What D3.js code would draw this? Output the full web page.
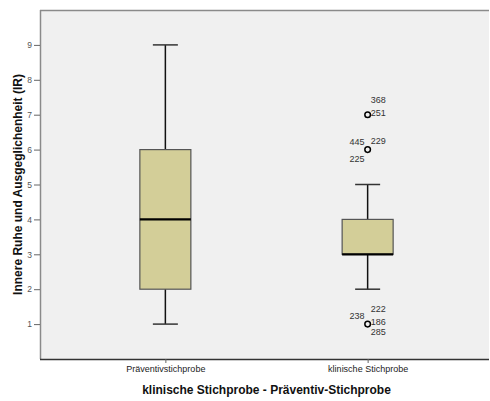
<html>

<head>
	<title>Boxplot IR</title>
	<script src="https://d3js.org/d3.v7.min.js"></script>
	<style>
		body {
			margin: 0;
			background: #fff;
			font-family: "Liberation Sans", Arial, sans-serif;
		}
	</style>
</head>

<body>
	<div id="chart"></div>
	<script>
		// groups and their box statistics
		let groups = ["Präventivstichprobe", "klinische Stichprobe"];
		let mins = [1, 2];
		let q1s = [2, 3];
		let medians = [4, 3];
		let q3s = [6, 4];
		let maxs = [9, 5];
		let yTicks = [1, 2, 3, 4, 5, 6, 7, 8, 9];

		// outliers of the clinical sample: value and case labels (side, dy)
		let outliers = [
			{ g: 1, v: 7, labels: [["368", "r", -15], ["251", "r", -2]] },
			{ g: 1, v: 6, labels: [["445", "l", -8], ["229", "r", -9], ["225", "l", 9]] },
			{ g: 1, v: 1, labels: [["222", "r", -15], ["238", "l", -8], ["186", "r", -2], ["285", "r", 8]] }
		];

		let W = 490, H = 401;
		let pL = 40, pR = 489, pT = 10, pB = 359;

		let svg = d3.select("#chart").append("svg")
			.attr("width", W)
			.attr("height", H);

		let x = d3.scalePoint().domain(groups).range([44, 489]).padding(0.6);
		let y = d3.scaleLinear().domain([0, 10]).range([pB, pT]);

		// plot background
		svg.append("rect")
			.attr("x", pL).attr("y", pT)
			.attr("width", pR - pL).attr("height", pB - pT)
			.attr("fill", "#f0f0f0");
		svg.append("line").attr("x1", pL).attr("x2", pR).attr("y1", pT + 0.5).attr("y2", pT + 0.5)
			.attr("stroke", "#8a8a8a").attr("stroke-width", 1.5);
		svg.append("line").attr("x1", pL + 0.5).attr("x2", pL + 0.5).attr("y1", pT).attr("y2", pB)
			.attr("stroke", "#8a8a8a").attr("stroke-width", 1.5);

		// y axis
		let yAxis = svg.append("g")
			.attr("transform", "translate(" + pL + ",0)")
			.call(d3.axisLeft(y).tickValues(yTicks).tickSize(6).tickPadding(2));
		yAxis.select(".domain").remove();
		yAxis.selectAll("line").attr("stroke", "#666");
		yAxis.selectAll("text").attr("font-size", 8.5).attr("fill", "#555")
			.attr("font-family", "Liberation Sans, Arial, sans-serif");

		// x axis
		let xAxis = svg.append("g")
			.attr("transform", "translate(0," + pB + ")")
			.call(d3.axisBottom(x).tickSize(4).tickPadding(3).tickSizeOuter(0));
		xAxis.select(".domain").attr("d", "M" + pL + ",0.5H" + pR)
			.attr("stroke", "#333").attr("stroke-width", 1.5);
		xAxis.selectAll("line").attr("stroke", "#666");
		xAxis.selectAll("text").attr("font-size", 9).attr("fill", "#222")
			.attr("font-family", "Liberation Sans, Arial, sans-serif");

		let bw = 51, cw = 25;
		let data = groups.map(function (g, i) {
			return { g: g, min: mins[i], q1: q1s[i], med: medians[i], q3: q3s[i], max: maxs[i] };
		});

		let box = svg.selectAll(".box").data(data).enter().append("g").attr("class", "box");

		// whiskers
		box.append("line")
			.attr("x1", function (d) { return x(d.g); })
			.attr("x2", function (d) { return x(d.g); })
			.attr("y1", function (d) { return y(d.max); })
			.attr("y2", function (d) { return y(d.min); })
			.attr("stroke", "#111").attr("stroke-width", 1.5);
		box.selectAll(".cap").data(function (d) { return [[d.g, d.max], [d.g, d.min]]; })
			.enter().append("line")
			.attr("x1", function (d) { return x(d[0]) - cw / 2; })
			.attr("x2", function (d) { return x(d[0]) + cw / 2; })
			.attr("y1", function (d) { return y(d[1]); })
			.attr("y2", function (d) { return y(d[1]); })
			.attr("stroke", "#333").attr("stroke-width", 1.5);

		// boxes
		box.append("rect")
			.attr("x", function (d) { return x(d.g) - bw / 2; })
			.attr("width", bw)
			.attr("y", function (d) { return y(d.q3); })
			.attr("height", function (d) { return y(d.q1) - y(d.q3); })
			.attr("fill", "#d3ce98")
			.attr("stroke", "#555").attr("stroke-width", 1.2);

		// medians
		box.append("line")
			.attr("x1", function (d) { return x(d.g) - bw / 2; })
			.attr("x2", function (d) { return x(d.g) + bw / 2; })
			.attr("y1", function (d) { return y(d.med); })
			.attr("y2", function (d) { return y(d.med); })
			.attr("stroke", "#000").attr("stroke-width", 2.2);

		// outliers
		let out = svg.selectAll(".out").data(outliers).enter().append("g").attr("class", "out")
			.attr("transform", function (d) {
				return "translate(" + x(groups[d.g]) + "," + y(d.v) + ")";
			});
		out.append("circle").attr("r", 2.8)
			.attr("fill", "none").attr("stroke", "#000").attr("stroke-width", 1.5);
		out.selectAll("text").data(function (d) { return d.labels; })
			.enter().append("text")
			.attr("x", function (d) { return d[1] == "r" ? 3 : -3; })
			.attr("y", function (d) { return d[2]; })
			.attr("dy", "0.35em")
			.attr("text-anchor", function (d) { return d[1] == "r" ? "start" : "end"; })
			.attr("font-size", 9).attr("fill", "#333")
			.text(function (d) { return d[0]; });

		// axis titles
		svg.append("text")
			.attr("transform", "translate(18," + ((pT + pB) / 2) + ") rotate(-90)")
			.attr("text-anchor", "middle").attr("dy", "0.35em")
			.attr("font-size", 12).attr("font-weight", "bold").attr("fill", "#111")
			.text("Innere Ruhe und Ausgeglichenheit (IR)");
		svg.append("text")
			.attr("x", (pL + pR) / 2 + 2).attr("y", 390)
			.attr("text-anchor", "middle").attr("dy", "0.35em")
			.attr("font-size", 12).attr("font-weight", "bold").attr("fill", "#111")
			.text("klinische Stichprobe - Präventiv-Stichprobe");
	</script>
</body>

</html>
